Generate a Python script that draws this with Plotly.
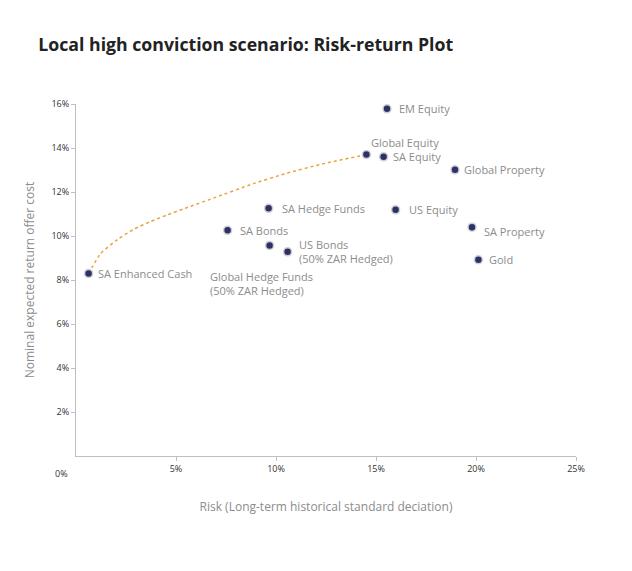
import plotly.graph_objects as go

# asset class risk / return (percent)
assets = ["SA Enhanced Cash", "SA Bonds", "SA Hedge Funds",
          "Global Hedge Funds<br>(50% ZAR Hedged)", "US Bonds<br>(50% ZAR Hedged)",
          "EM Equity", "Global Equity", "SA Equity", "Global Property",
          "US Equity", "SA Property", "Gold"]
risk = [0.63, 7.58, 9.63, 9.68, 10.58, 15.55, 14.52, 15.38, 18.95, 15.98, 19.80, 20.12]
ret = [8.30, 10.26, 11.26, 9.57, 9.28, 15.78, 13.70, 13.60, 13.01, 11.19, 10.40, 8.92]

# efficient frontier (dotted curve)
frontier_risk = [0.63, 1.23, 2.07, 2.90, 3.73, 4.57, 5.40, 6.87, 8.87, 10.53, 12.20, 14.52]
frontier_ret = [8.30, 9.20, 9.84, 10.31, 10.66, 10.96, 11.24, 11.72, 12.38, 12.85, 13.25, 13.70]

x_ticks = [5, 10, 15, 20, 25]
y_ticks = [2, 4, 6, 8, 10, 12, 14, 16]

FONT = "Open Sans"
GREY = "#8c8c8c"

# label placement: (xshift, yshift, xanchor, yanchor) in pixels
label_pos = {
    "SA Enhanced Cash": (7, 0, "left", "middle"),
    "SA Bonds": (10, 0, "left", "middle"),
    "SA Hedge Funds": (11, 0, "left", "middle"),
    "Global Hedge Funds<br>(50% ZAR Hedged)": (-62, -22, "left", "top"),
    "US Bonds<br>(50% ZAR Hedged)": (9, 0, "left", "middle"),
    "EM Equity": (10, 0, "left", "middle"),
    "Global Equity": (3, 12, "left", "middle"),
    "SA Equity": (7, 0, "left", "middle"),
    "Global Property": (7, 0, "left", "middle"),
    "US Equity": (11, 0, "left", "middle"),
    "SA Property": (10, -4, "left", "middle"),
    "Gold": (9, 0, "left", "middle"),
}

fig = go.Figure()
fig.add_trace(go.Scatter(x=frontier_risk, y=frontier_ret, mode="lines",
                         line=dict(color="#E8A33D", width=1.5, dash="dot",
                                   shape="spline", smoothing=0.5),
                         hoverinfo="skip", showlegend=False))
fig.add_trace(go.Scatter(x=risk, y=ret, mode="markers", text=assets,
                         marker=dict(color="#2E3163", size=8,
                                     line=dict(color="#d0d0d8", width=1.5)),
                         showlegend=False))

for name, xv, yv in zip(assets, risk, ret):
    dx, dy, xa, ya = label_pos[name]
    fig.add_annotation(x=xv, y=yv, text=name, showarrow=False, xshift=dx, yshift=dy,
                       xanchor=xa, yanchor=ya, align="left",
                       font=dict(family=FONT, size=11, color=GREY))

# lone origin label
fig.add_annotation(x=0, y=0, text="0%", showarrow=False, xshift=-15, yshift=-17,
                   font=dict(family=FONT, size=9, color="#333333"))

fig.update_layout(
    width=632, height=571,
    margin=dict(l=68, r=64, t=96, b=123),
    paper_bgcolor="white", plot_bgcolor="white",
    title=dict(text="<b>Local high conviction scenario: Risk-return Plot</b>",
               x=0.048, xanchor="left", y=0.935, yanchor="middle",
               font=dict(family=FONT, size=17.7, color="#222222")),
    xaxis=dict(range=[0, 25], tickvals=x_ticks, ticktext=[f"{v}%" for v in x_ticks],
               showgrid=False, zeroline=False, showline=True, linecolor="#bfbfbf",
               ticks="outside", ticklen=4, tickcolor="#bfbfbf",
               tickfont=dict(family=FONT, size=9, color="#333333"),
               title=dict(text="Risk (Long-term historical standard deciation)", standoff=28,
                          font=dict(family=FONT, size=12, color=GREY))),
    yaxis=dict(range=[0, 16], tickvals=y_ticks, ticktext=[f"{v}%" for v in y_ticks],
               showgrid=False, zeroline=False, showline=True, linecolor="#bfbfbf",
               ticks="outside", ticklen=4, tickcolor="#bfbfbf",
               tickfont=dict(family=FONT, size=9, color="#333333"),
               title=dict(text="Nominal expected return offer cost", standoff=14,
                          font=dict(family=FONT, size=12, color=GREY))),
)

fig.write_html("out.html")
